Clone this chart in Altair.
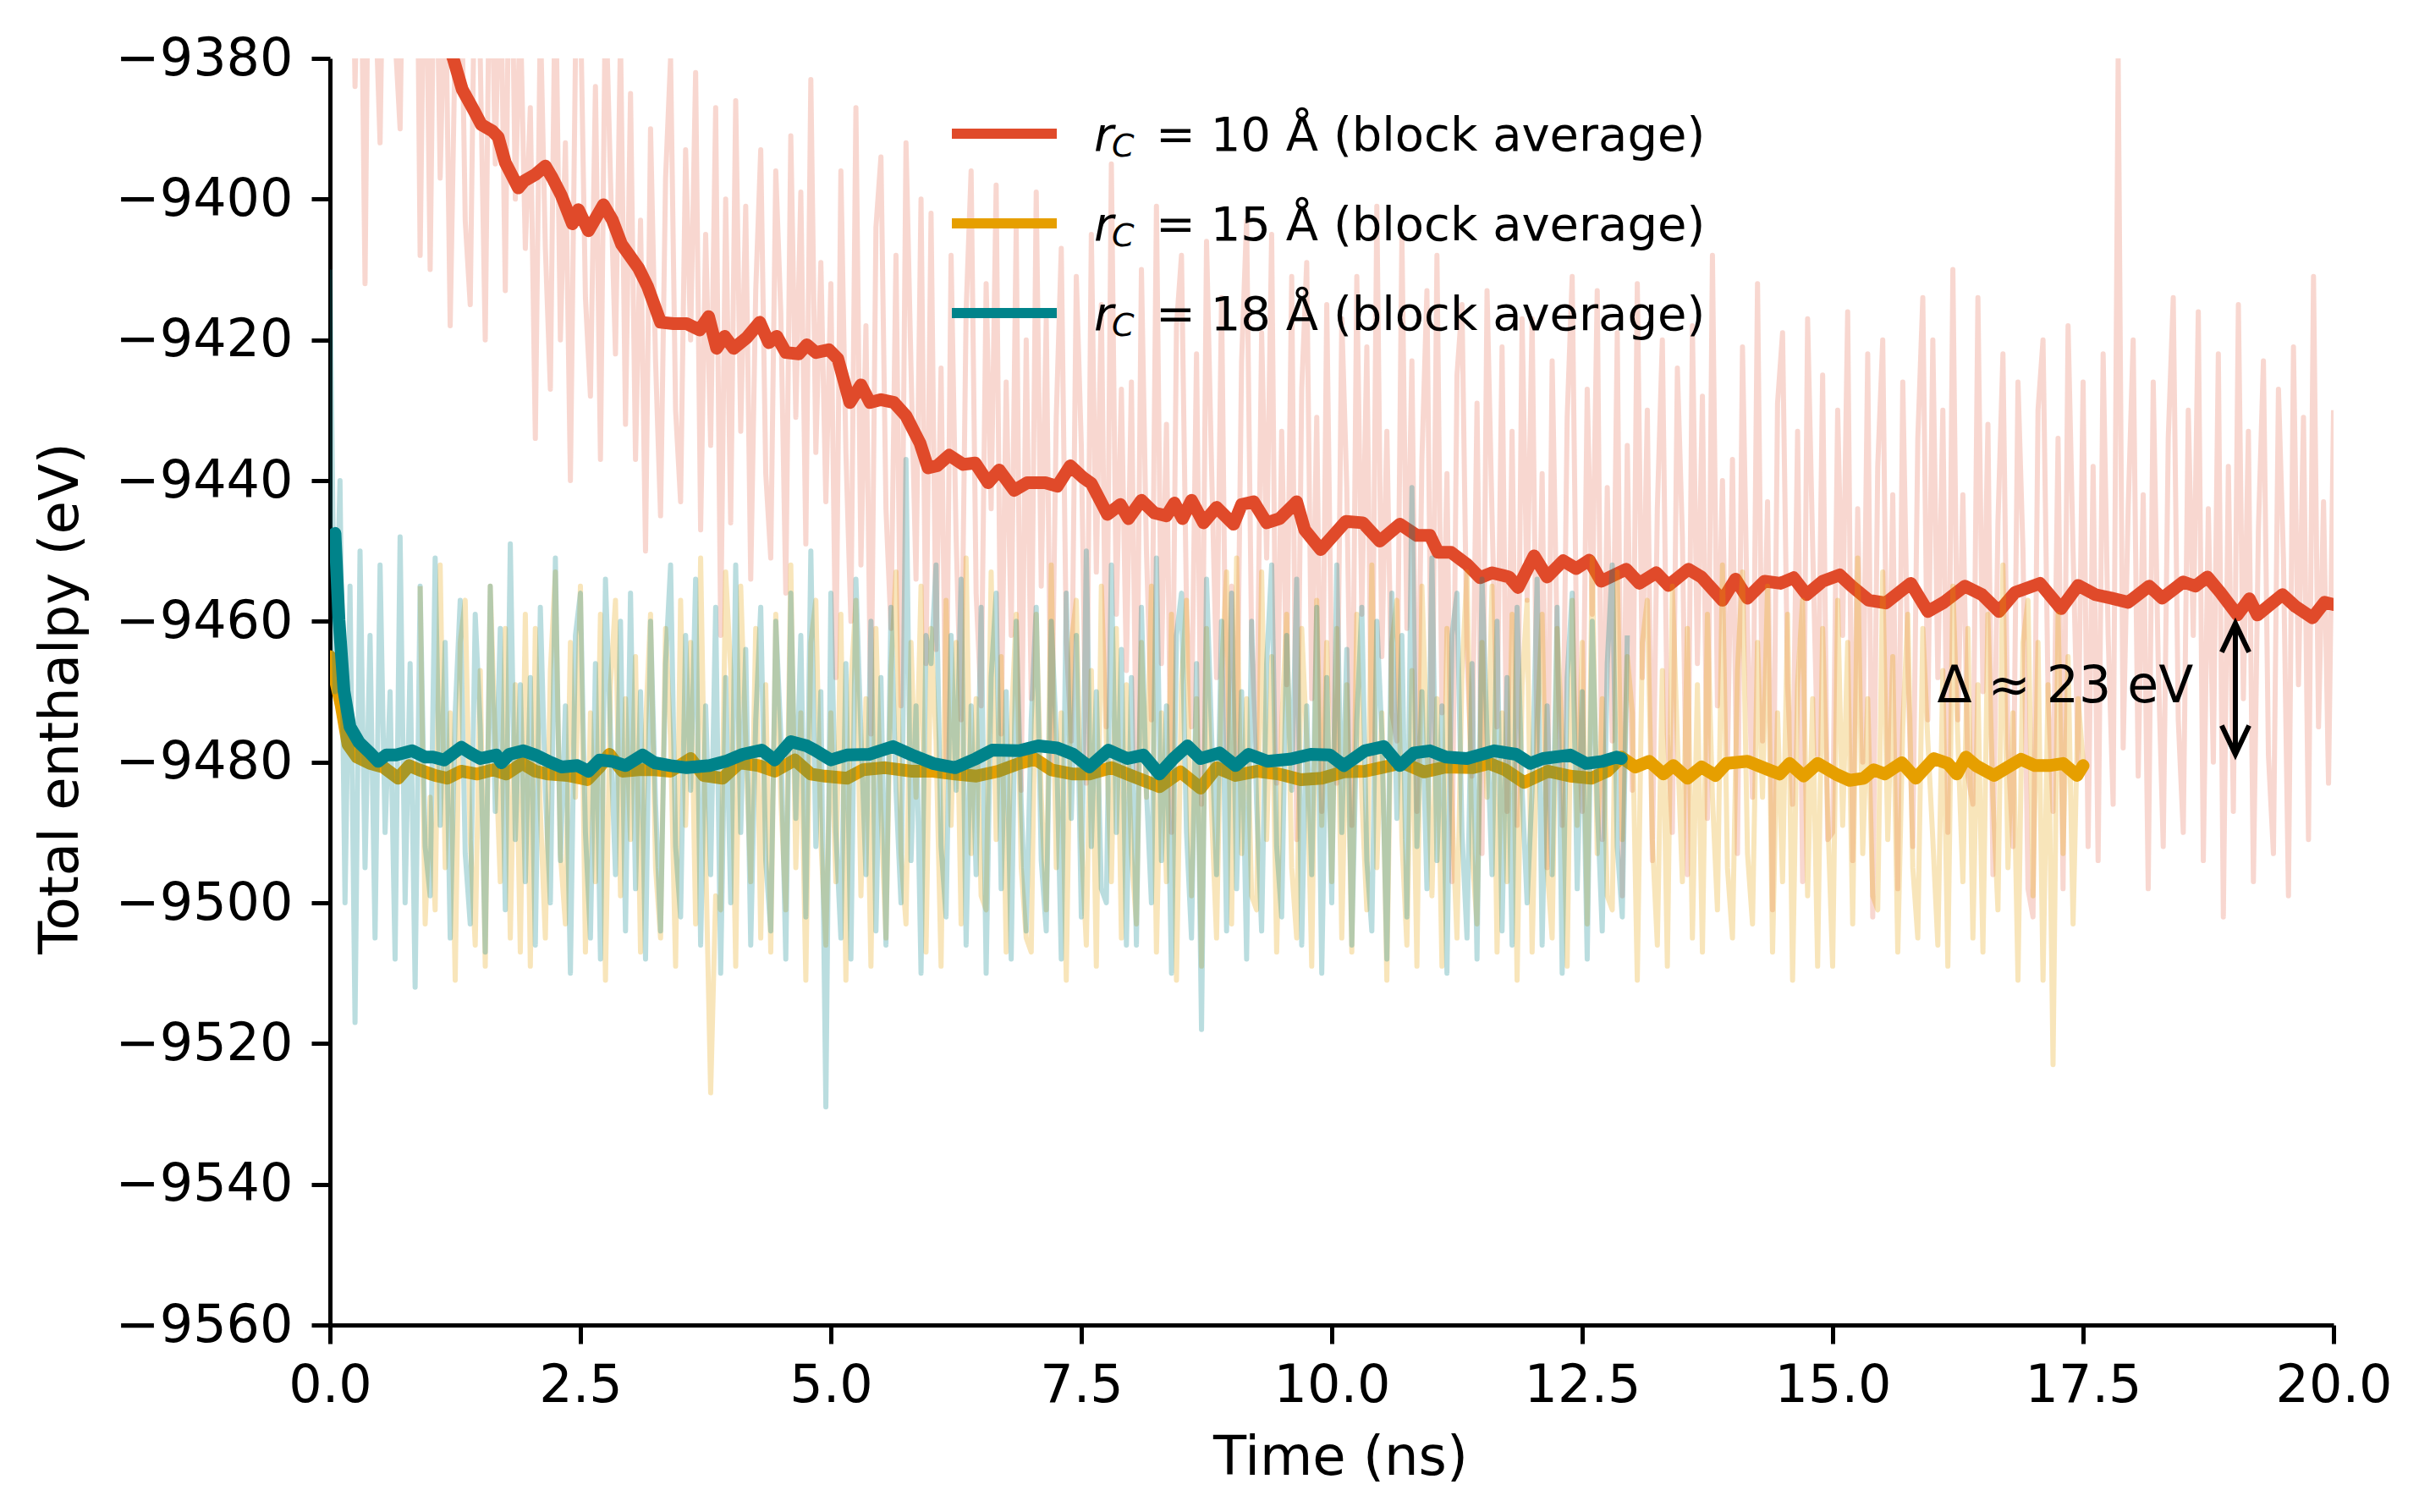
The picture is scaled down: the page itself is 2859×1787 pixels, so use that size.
import altair as alt
import pandas as pd

FONT = "DejaVu Sans"
RED = "#E04A2A"
ORANGE = "#E69F00"
TEAL = "#00838A"

# ---------------- axis ticks ----------------
x_ticks = [0.0, 2.5, 5.0, 7.5, 10.0, 12.5, 15.0, 17.5, 20.0]
y_ticks = [-9560, -9540, -9520, -9500, -9480, -9460, -9440, -9420, -9400, -9380]

# ---------------- block averages (time ns, enthalpy eV) ----------------
red_avg_t = [1.10, 1.23, 1.32, 1.44, 1.51, 1.62, 1.68, 1.75, 1.88, 1.94, 2.05, 2.15, 2.22, 2.31, 2.42, 2.48,
             2.58, 2.73, 2.82, 2.91, 3.08, 3.17, 3.30, 3.43, 3.56, 3.69, 3.78, 3.86, 3.94, 4.03, 4.16, 4.29,
             4.38, 4.46, 4.55, 4.68, 4.76, 4.85, 4.98, 5.07, 5.19, 5.30, 5.39, 5.50, 5.63, 5.75, 5.89, 5.97,
             6.06, 6.18, 6.32, 6.44, 6.57, 6.68, 6.83, 6.96, 7.14, 7.26, 7.39, 7.52, 7.60, 7.76, 7.89, 7.97,
             8.10, 8.23, 8.35, 8.43, 8.51, 8.60, 8.72, 8.85, 9.02, 9.10, 9.22, 9.35, 9.48, 9.65, 9.73, 9.89,
             10.14, 10.31, 10.48, 10.68, 10.85, 10.98, 11.06, 11.19, 11.35, 11.48, 11.60, 11.77, 11.86, 12.02,
             12.15, 12.31, 12.44, 12.57, 12.69, 12.94, 13.07, 13.24, 13.36, 13.56, 13.69, 13.90, 14.03, 14.15,
             14.32, 14.48, 14.61, 14.74, 14.90, 15.07, 15.19, 15.36, 15.53, 15.78, 15.95, 16.11, 16.32, 16.49,
             16.66, 16.82, 17.07, 17.28, 17.45, 17.62, 17.78, 17.95, 18.16, 18.29, 18.50, 18.62, 18.74, 18.87,
             19.04, 19.16, 19.24, 19.49, 19.62, 19.79, 19.91, 20.00]
red_avg_v = [-9374.5, -9380.0, -9384.4, -9387.5, -9389.4, -9390.3, -9391.2, -9394.8, -9398.4, -9397.4, -9396.5,
             -9395.3, -9397.0, -9399.5, -9403.5, -9401.5, -9404.5, -9400.8, -9403.0, -9406.4, -9409.8, -9412.4,
             -9417.5, -9417.7, -9417.7, -9418.6, -9416.7, -9421.2, -9419.5, -9421.2, -9419.7, -9417.5, -9420.4,
             -9419.5, -9421.8, -9422.0, -9420.7, -9421.8, -9421.4, -9422.7, -9428.9, -9426.4, -9428.9, -9428.5,
             -9428.9, -9430.8, -9434.7, -9438.2, -9437.9, -9436.4, -9437.7, -9437.5, -9440.3, -9438.5, -9441.4,
             -9440.3, -9440.3, -9440.8, -9437.9, -9439.6, -9440.4, -9444.8, -9443.4, -9445.4, -9442.8, -9444.6,
             -9445.0, -9443.2, -9445.4, -9442.8, -9446.0, -9443.8, -9446.2, -9443.4, -9443.0, -9446.0, -9445.4,
             -9443.0, -9447.0, -9449.8, -9445.8, -9446.0, -9448.6, -9446.2, -9447.8, -9447.8, -9450.2, -9450.2,
             -9451.9, -9453.8, -9453.1, -9453.7, -9455.2, -9450.7, -9453.7, -9451.4, -9452.5, -9451.3, -9454.3,
             -9452.6, -9454.6, -9453.1, -9454.9, -9452.6, -9453.7, -9457.0, -9454.0, -9456.7, -9454.3, -9454.6,
             -9453.8, -9456.2, -9454.3, -9453.4, -9455.0, -9457.0, -9457.4, -9454.6, -9458.6, -9457.3, -9455.0,
             -9456.2, -9458.6, -9455.9, -9454.6, -9458.2, -9454.9, -9456.2, -9456.7, -9457.3, -9455.0, -9456.7,
             -9454.4, -9455.0, -9453.7, -9455.9, -9459.1, -9456.8, -9459.1, -9456.2, -9457.9, -9459.5, -9457.3,
             -9457.6]

orange_avg_t = [0.00, 0.11, 0.18, 0.27, 0.40, 0.53, 0.68, 0.79, 0.89, 1.05, 1.17, 1.31, 1.47, 1.63, 1.76, 1.92,
                2.05, 2.18, 2.37, 2.57, 2.69, 2.79, 2.92, 3.08, 3.24, 3.40, 3.60, 3.73, 3.92, 4.09, 4.28, 4.44,
                4.64, 4.80, 4.94, 5.16, 5.32, 5.54, 5.81, 6.02, 6.24, 6.45, 6.67, 6.88, 7.04, 7.20, 7.42, 7.58,
                7.80, 8.01, 8.28, 8.49, 8.69, 8.85, 9.04, 9.26, 9.47, 9.69, 9.90, 10.12, 10.33, 10.49, 10.71,
                10.92, 11.14, 11.41, 11.57, 11.73, 11.92, 12.16, 12.38, 12.59, 12.75, 12.89, 13.03, 13.17, 13.31,
                13.41, 13.55, 13.69, 13.83, 13.94, 14.15, 14.36, 14.47, 14.57, 14.71, 14.85, 15.03, 15.17, 15.31,
                15.41, 15.52, 15.69, 15.83, 16.01, 16.15, 16.24, 16.33, 16.43, 16.61, 16.74, 16.88, 17.02, 17.16,
                17.30, 17.44, 17.50]
orange_avg_v = [-9465.0, -9471.8, -9477.5, -9479.3, -9480.2, -9480.7, -9482.3, -9480.5, -9481.1, -9481.9, -9482.3,
                -9481.3, -9481.7, -9481.1, -9481.7, -9480.2, -9481.3, -9481.7, -9481.9, -9482.5, -9480.7, -9478.9,
                -9481.3, -9481.1, -9481.1, -9481.3, -9479.5, -9481.9, -9482.3, -9480.1, -9480.5, -9481.3, -9479.7,
                -9481.7, -9482.0, -9482.3, -9481.1, -9480.8, -9481.3, -9481.3, -9481.7, -9482.0, -9481.3, -9480.2,
                -9479.6, -9481.1, -9481.7, -9481.7, -9480.8, -9482.0, -9483.5, -9481.4, -9483.7, -9480.8, -9481.9,
                -9481.3, -9481.7, -9482.5, -9482.3, -9481.4, -9481.3, -9480.8, -9480.1, -9481.4, -9480.7, -9480.8,
                -9480.2, -9481.1, -9482.9, -9481.3, -9482.0, -9482.3, -9481.3, -9479.3, -9480.7, -9479.9, -9481.7,
                -9480.5, -9482.3, -9480.7, -9481.9, -9480.2, -9479.9, -9481.1, -9481.7, -9480.2, -9482.0, -9480.2,
                -9481.7, -9482.6, -9482.3, -9481.1, -9481.7, -9480.1, -9482.3, -9479.5, -9480.2, -9481.7, -9479.3,
                -9480.5, -9481.9, -9480.8, -9479.6, -9480.5, -9480.5, -9480.2, -9481.9, -9480.5]

teal_avg_t = [0.05, 0.09, 0.14, 0.20, 0.29, 0.40, 0.48, 0.56, 0.66, 0.82, 0.95, 1.03, 1.14, 1.31, 1.40, 1.50,
              1.66, 1.71, 1.79, 1.93, 2.05, 2.18, 2.31, 2.47, 2.58, 2.69, 2.82, 2.95, 3.12, 3.24, 3.40, 3.56,
              3.79, 3.95, 4.12, 4.31, 4.44, 4.60, 4.76, 4.84, 5.00, 5.16, 5.38, 5.62, 5.81, 6.02, 6.24, 6.45,
              6.61, 6.88, 7.07, 7.26, 7.42, 7.58, 7.77, 7.96, 8.12, 8.28, 8.42, 8.56, 8.69, 8.88, 9.04, 9.17,
              9.36, 9.58, 9.79, 9.98, 10.12, 10.33, 10.52, 10.68, 10.82, 10.98, 11.14, 11.35, 11.62, 11.84,
              11.98, 12.11, 12.38, 12.54, 12.70, 12.84, 12.89]
teal_avg_v = [-9447.5, -9459.8, -9469.9, -9475.0, -9477.2, -9478.7, -9479.9, -9479.0, -9479.0, -9478.4, -9479.3,
              -9479.3, -9479.7, -9477.9, -9478.7, -9479.5, -9479.0, -9480.1, -9478.9, -9478.4, -9479.0, -9479.9,
              -9480.7, -9480.5, -9481.3, -9479.7, -9479.9, -9480.5, -9479.0, -9480.1, -9480.5, -9480.8, -9480.5,
              -9479.9, -9478.9, -9478.3, -9479.7, -9477.1, -9477.7, -9478.3, -9479.7, -9479.0, -9478.9, -9477.8,
              -9479.0, -9480.2, -9480.8, -9479.5, -9478.3, -9478.4, -9477.7, -9478.0, -9478.9, -9480.7, -9478.3,
              -9479.5, -9479.0, -9481.7, -9479.5, -9477.7, -9479.5, -9478.7, -9480.5, -9478.9, -9479.9, -9479.6,
              -9478.9, -9479.0, -9480.5, -9478.4, -9477.8, -9480.5, -9478.7, -9478.4, -9479.3, -9479.5, -9478.4,
              -9478.9, -9480.2, -9479.5, -9479.0, -9480.2, -9479.9, -9479.3, -9479.5]

# ---------------- raw traces (sampled every 0.05 ns) ----------------
RAW_STEP = 0.05
red_raw_start = 0.20
red_raw = [
    -9332, -9384, -9350, -9412, -9337, -9370, -9392, -9344, -9327, -9377, -9390, -9340, -9367, -9329, -9408, -9352,
    -9410, -9350, -9397, -9365, -9418, -9377, -9357, -9403, -9415, -9360, -9380, -9420, -9355, -9395, -9363, -9413, -9347, -9400, -9373, -9407,
    -9387, -9434, -9374, -9407, -9427, -9366, -9420, -9392, -9440, -9380, -9372, -9414, -9428, -9384, -9437, -9370, -9397, -9422, -9377, -9432,
    -9385, -9437, -9403, -9450, -9390, -9423, -9445, -9397, -9380, -9430, -9443, -9393, -9420, -9382, -9447, -9405, -9435, -9387, -9462, -9400,
    -9446, -9386, -9433, -9401, -9454, -9413, -9393, -9439, -9451, -9396, -9416, -9456, -9391, -9431, -9399, -9449, -9383, -9436, -9409, -9443,
    -9412, -9468, -9396, -9436, -9460, -9387, -9452, -9418, -9476, -9404, -9394, -9444, -9461, -9408, -9472, -9392, -9424, -9454, -9400, -9466,
    -9402, -9464, -9424, -9480, -9408, -9448, -9474, -9416, -9396, -9456, -9472, -9412, -9444, -9398, -9476, -9426, -9462, -9404, -9484, -9420,
    -9471, -9399, -9455, -9417, -9481, -9431, -9407, -9463, -9477, -9411, -9435, -9483, -9405, -9453, -9415, -9475, -9395, -9459, -9427, -9467,
    -9426, -9482, -9410, -9450, -9474, -9401, -9466, -9432, -9490, -9418, -9408, -9458, -9475, -9422, -9486, -9406, -9438, -9468, -9414, -9480,
    -9455, -9481, -9423, -9403, -9463, -9479, -9419, -9451, -9405, -9483, -9433, -9469, -9411, -9491, -9427, -9409, -9471, -9431, -9487, -9415,
    -9469, -9483, -9417, -9441, -9489, -9411, -9459, -9421, -9481, -9401, -9465, -9433, -9473, -9477, -9405, -9461, -9423, -9487, -9437, -9413,
    -9481, -9408, -9473, -9439, -9497, -9425, -9415, -9465, -9482, -9429, -9493, -9413, -9445, -9475, -9421, -9487, -9433, -9489, -9417, -9457,
    -9417, -9479, -9439, -9495, -9423, -9463, -9489, -9431, -9411, -9471, -9487, -9427, -9459, -9413, -9491, -9441, -9477, -9419, -9499, -9435,
    -9484, -9412, -9468, -9430, -9494, -9444, -9420, -9476, -9490, -9424, -9448, -9496, -9418, -9466, -9428, -9488, -9408, -9472, -9440, -9480,
    -9437, -9493, -9421, -9461, -9485, -9412, -9477, -9443, -9501, -9429, -9419, -9469, -9486, -9433, -9497, -9417, -9449, -9479, -9425, -9491,
    -9490, -9430, -9462, -9416, -9494, -9444, -9480, -9422, -9502, -9438, -9420, -9482, -9442, -9498, -9426, -9466, -9492, -9434, -9414, -9474,
    -9420, -9468, -9430, -9490, -9410, -9474, -9442, -9482, -9486, -9414, -9470, -9432, -9496, -9446, -9422, -9478, -9492, -9426, -9450, -9498,
    -9502, -9430, -9420, -9470, -9487, -9434, -9498, -9418, -9450, -9480, -9426, -9492, -9438, -9494, -9422, -9462, -9486, -9380, -9478, -9444,
    -9420, -9482, -9442, -9498, -9426, -9466, -9492, -9434, -9414, -9474, -9490, -9430, -9462, -9416, -9494, -9444, -9480, -9422, -9502, -9438,
    -9487, -9415, -9471, -9433, -9497, -9447, -9423, -9479, -9493, -9427, -9451, -9499, -9421, -9469, -9431, -9491, -9411, -9475, -9443, -9483,
    -9430]

orange_raw_start = 0.90
orange_raw = [
    -9455, -9503,
    -9485, -9501, -9452, -9495, -9473, -9511, -9463, -9457, -9491, -9506, -9467, -9509, -9455, -9477, -9497, -9461, -9505, -9469, -9507, -9459,
    -9509, -9461, -9487, -9505, -9467, -9453, -9493, -9503, -9463, -9485, -9455, -9507, -9473, -9497, -9459, -9511, -9469, -9457, -9499, -9471,
    -9491, -9465, -9507, -9475, -9459, -9495, -9505, -9461, -9477, -9509, -9457, -9489, -9463, -9503, -9451, -9493, -9527, -9499, -9501, -9453,
    -9467, -9509, -9455, -9477, -9497, -9461, -9505, -9469, -9507, -9459, -9485, -9501, -9452, -9495, -9473, -9511, -9463, -9457, -9491, -9506,
    -9473, -9497, -9459, -9511, -9469, -9457, -9499, -9471, -9509, -9461, -9487, -9505, -9467, -9453, -9493, -9503, -9463, -9485, -9455, -9507,
    -9461, -9477, -9509, -9457, -9489, -9463, -9503, -9451, -9493, -9471, -9499, -9501, -9453, -9491, -9465, -9507, -9475, -9459, -9495, -9505,
    -9507, -9459, -9485, -9501, -9452, -9495, -9473, -9511, -9463, -9457, -9491, -9506, -9467, -9509, -9455, -9477, -9497, -9461, -9505, -9469,
    -9493, -9503, -9463, -9485, -9455, -9507, -9473, -9497, -9459, -9511, -9469, -9457, -9499, -9471, -9509, -9461, -9487, -9505, -9467, -9453,
    -9503, -9451, -9493, -9471, -9499, -9501, -9453, -9491, -9465, -9507, -9475, -9459, -9495, -9505, -9461, -9477, -9509, -9457, -9489, -9463,
    -9497, -9461, -9505, -9469, -9507, -9459, -9485, -9501, -9452, -9495, -9473, -9511, -9463, -9457, -9491, -9506, -9467, -9509, -9455, -9477,
    -9499, -9471, -9509, -9461, -9487, -9505, -9467, -9453, -9493, -9503, -9463, -9485, -9455, -9507, -9473, -9497, -9459, -9511, -9469, -9457,
    -9507, -9475, -9459, -9495, -9505, -9461, -9477, -9509, -9457, -9489, -9463, -9503, -9451, -9493, -9471, -9499, -9501, -9453, -9491, -9465,
    -9473, -9511, -9463, -9457, -9491, -9506, -9467, -9509, -9455, -9477, -9497, -9461, -9505, -9469, -9507, -9459, -9485, -9501, -9452, -9495,
    -9505, -9467, -9453, -9493, -9503, -9463, -9485, -9455, -9507, -9473, -9497, -9459, -9511, -9469, -9457, -9499, -9471, -9509, -9461, -9487,
    -9509, -9457, -9489, -9463, -9503, -9451, -9493, -9471, -9499, -9501, -9453, -9491, -9465, -9507, -9475, -9459, -9495, -9505, -9461, -9477,
    -9491, -9506, -9467, -9509, -9455, -9477, -9497, -9461, -9505, -9469, -9507, -9459, -9485, -9501, -9452, -9495, -9473, -9511, -9463, -9457,
    -9499, -9463, -9511, -9469, -9523, -9459, -9493, -9465, -9503, -9471, -9480]

teal_raw_start = 0.00
teal_raw = [
    -9410, -9470, -9440, -9500, -9455, -9517, -9450, -9495, -9462, -9505, -9452, -9490, -9470, -9508, -9448, -9500, -9466, -9512, -9455, -9492,
    -9499, -9451, -9489, -9463, -9505, -9473, -9457, -9493, -9503, -9459, -9475, -9507, -9455, -9487, -9461, -9501, -9449, -9491, -9469, -9497,
    -9468, -9506, -9458, -9484, -9500, -9451, -9494, -9472, -9510, -9462, -9456, -9490, -9505, -9466, -9508, -9454, -9476, -9496, -9460, -9504,
    -9456, -9498, -9470, -9508, -9460, -9486, -9504, -9466, -9452, -9492, -9502, -9462, -9484, -9454, -9506, -9472, -9496, -9458, -9510, -9468,
    -9500, -9452, -9490, -9464, -9506, -9474, -9458, -9494, -9504, -9460, -9476, -9508, -9456, -9488, -9462, -9502, -9450, -9492, -9470, -9529,
    -9456, -9490, -9505, -9466, -9508, -9454, -9476, -9496, -9460, -9504, -9468, -9506, -9458, -9484, -9500, -9437, -9494, -9472, -9510, -9462,
    -9466, -9452, -9492, -9502, -9462, -9484, -9454, -9506, -9472, -9496, -9458, -9510, -9468, -9456, -9498, -9470, -9508, -9460, -9486, -9504,
    -9474, -9458, -9494, -9504, -9460, -9476, -9508, -9456, -9488, -9462, -9502, -9450, -9492, -9470, -9498, -9500, -9452, -9490, -9464, -9506,
    -9468, -9506, -9458, -9484, -9500, -9451, -9494, -9472, -9510, -9462, -9456, -9490, -9505, -9466, -9518, -9454, -9476, -9496, -9460, -9504,
    -9456, -9498, -9470, -9508, -9460, -9486, -9504, -9466, -9452, -9492, -9502, -9462, -9484, -9454, -9506, -9472, -9496, -9458, -9510, -9468,
    -9500, -9452, -9490, -9464, -9506, -9474, -9458, -9494, -9504, -9460, -9476, -9508, -9456, -9488, -9462, -9502, -9441, -9492, -9470, -9498,
    -9451, -9494, -9472, -9510, -9462, -9456, -9490, -9505, -9466, -9508, -9454, -9476, -9496, -9460, -9504, -9468, -9506, -9458, -9484, -9500,
    -9484, -9454, -9506, -9472, -9496, -9458, -9510, -9468, -9456, -9498, -9470, -9508, -9460, -9486, -9504, -9466, -9452, -9492, -9502, -9462]

# ---------------- legend / annotation text ----------------
legend_colors = [RED, ORANGE, TEAL]
legend_rest = ["= 10 Å (block average)", "= 15 Å (block average)", "= 18 Å (block average)"]
delta_label = ["Δ ≈ 23 eV"]
delta_t, delta_top, delta_bottom = [19.02], [-9460.3], [-9478.9]
delta_text_t, delta_text_v = [18.6], [-9471.5]


def raw_frame(start, vals):
    return pd.DataFrame({"t": [round(start + RAW_STEP * i, 3) for i in range(len(vals))], "v": vals})


xs = alt.Scale(domain=[0, 20], nice=False, zero=False)
ys = alt.Scale(domain=[-9560, -9380], nice=False, zero=False)

X = alt.X("t:Q", scale=xs, axis=alt.Axis(values=x_ticks, format=".1f", title="Time (ns)",
                                          titleX=1194, titleY=176, titleBaseline="alphabetic",
                                          labelBaseline="alphabetic", labelPadding=68, labelLimit=0,
                                          labelFlush=False, labelOverlap=False, grid=False))
Y = alt.Y("v:Q", scale=ys, axis=alt.Axis(values=y_ticks, format="d", title="Total enthalpy (eV)",
                                          titleX=-299, titleY=756, titleBaseline="alphabetic",
                                          labelPadding=22, labelLimit=0, labelOverlap=False, grid=False))


def raw_layer(df, color, op):
    return alt.Chart(df).mark_line(clip=True, color=color, strokeWidth=6, opacity=op,
                                   strokeJoin="round").encode(x=X, y=Y)


def avg_layer(df, color):
    return alt.Chart(df).mark_line(clip=True, color=color, strokeWidth=15,
                                   strokeJoin="round", strokeCap="round").encode(x=X, y=Y)


layers = [
    raw_layer(raw_frame(red_raw_start, red_raw), RED, 0.22),
    avg_layer(pd.DataFrame({"t": red_avg_t, "v": red_avg_v}), RED),
    raw_layer(raw_frame(orange_raw_start, orange_raw), ORANGE, 0.27),
    avg_layer(pd.DataFrame({"t": orange_avg_t, "v": orange_avg_v}), ORANGE),
    raw_layer(raw_frame(teal_raw_start, teal_raw), TEAL, 0.27),
    avg_layer(pd.DataFrame({"t": teal_avg_t, "v": teal_avg_v}), TEAL),
]

# ---- delta annotation ----
arrow_df = pd.DataFrame({"t": delta_t, "v": delta_top, "v2": delta_bottom})
layers.append(alt.Chart(arrow_df).mark_rule(color="black", strokeWidth=6).encode(
    x=X, y=Y, y2="v2:Q"))
layers.append(alt.Chart(pd.DataFrame({"t": delta_t, "v": delta_top})).mark_point(
    shape="M-1.9,4L0,0L1.9,4", size=289, filled=False, color="black", strokeWidth=6,
    opacity=1).encode(x=X, y=Y))
layers.append(alt.Chart(pd.DataFrame({"t": delta_t, "v": delta_bottom})).mark_point(
    shape="M-1.9,-4L0,0L1.9,-4", size=289, filled=False, color="black", strokeWidth=6,
    opacity=1).encode(x=X, y=Y))
layers.append(alt.Chart(pd.DataFrame({"t": delta_text_t, "v": delta_text_v, "label": delta_label})).mark_text(
    align="right", baseline="alphabetic", font=FONT, fontSize=60, color="black").encode(
    x=X, y=Y, text="label:N"))

# ---- custom legend (pixel layout inside the plot area) ----
LEG_X0, LEG_X1, LEG_Y0, LEG_DY = 735, 859, 89, 106
for i, (col, rest) in enumerate(zip(legend_colors, legend_rest)):
    yy = LEG_Y0 + LEG_DY * i
    one = pd.DataFrame({"r": ["r"], "c": ["C"], "rest": [rest]})
    layers.append(alt.Chart(one).mark_rule(color=col, strokeWidth=12).encode(
        x=alt.value(LEG_X0), x2=alt.value(LEG_X1), y=alt.value(yy)))
    layers.append(alt.Chart(one).mark_text(align="left", baseline="alphabetic", font=FONT, fontSize=56,
                                           fontStyle="italic", color="black").encode(
        x=alt.value(903), y=alt.value(yy + 20), text="r:N"))
    layers.append(alt.Chart(one).mark_text(align="left", baseline="alphabetic", font=FONT, fontSize=38,
                                           fontStyle="italic", color="black").encode(
        x=alt.value(924), y=alt.value(yy + 27), text="c:N"))
    layers.append(alt.Chart(one).mark_text(align="left", baseline="alphabetic", font=FONT, fontSize=56,
                                           color="black").encode(
        x=alt.value(976), y=alt.value(yy + 20), text="rest:N"))

chart = alt.layer(*layers).properties(
    width=2368, height=1497,
    autosize=alt.AutoSizeParams(type="none"),
    padding={"left": 382, "top": 61, "right": 93, "bottom": 213},
    background="white",
).configure_view(stroke=None).configure_axis(
    labelFont=FONT, labelFontSize=62, labelColor="black",
    titleFont=FONT, titleFontSize=64, titleFontWeight="normal", titleColor="black",
    tickColor="black", tickWidth=5, tickSize=22, domainColor="black", domainWidth=5,
)

chart.save("out.html", embed_options={"renderer": "svg", "actions": False})
